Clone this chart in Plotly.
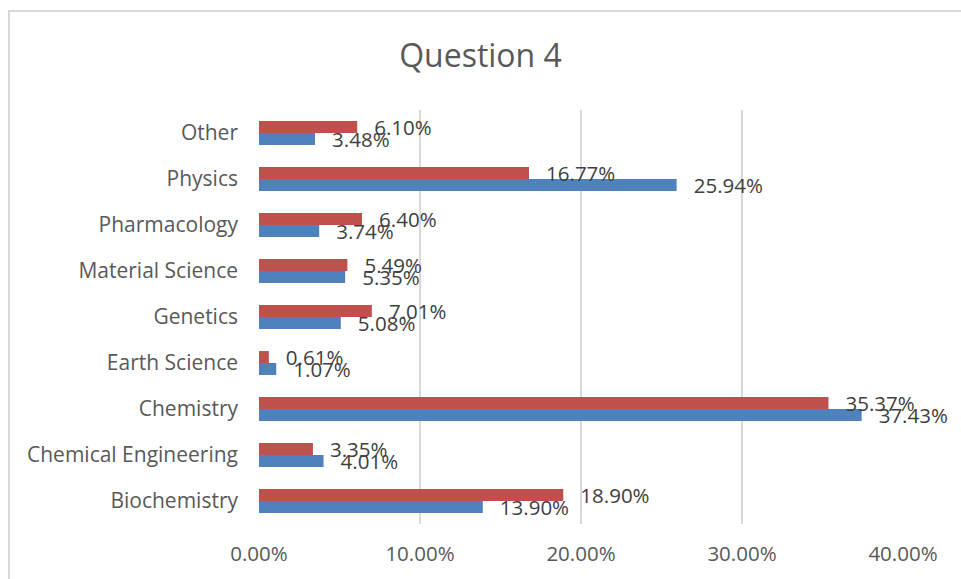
import plotly.graph_objects as go

categories = ["Biochemistry", "Chemical Engineering", "Chemistry", "Earth Science",
              "Genetics", "Material Science", "Pharmacology", "Physics", "Other"]
series_blue = [0.1390, 0.0401, 0.3743, 0.0107, 0.0508, 0.0535, 0.0374, 0.2594, 0.0348]
series_red = [0.1890, 0.0335, 0.3537, 0.0061, 0.0701, 0.0549, 0.0640, 0.1677, 0.0610]
x_ticks = [0, 0.1, 0.2, 0.3, 0.4]
x_ticklabels = ["0.00%", "10.00%", "20.00%", "30.00%", "40.00%"]

FONT = "Open Sans"
LABEL_SIZE = 20.5
fig = go.Figure()
fig.add_trace(go.Bar(
    y=categories, x=series_blue, orientation="h", name="Series 1",
    marker=dict(color="#4F81BD", line=dict(width=0)),
    texttemplate="  \u2009%{x:.2%}", textposition="outside",
    textfont=dict(family=FONT, size=LABEL_SIZE, color="#404040"),
    constraintext="none", cliponaxis=False,
))
fig.add_trace(go.Bar(
    y=categories, x=series_red, orientation="h", name="Series 2",
    marker=dict(color="#C0504D", line=dict(width=0)),
    texttemplate="  \u2009%{x:.2%}", textposition="outside",
    textfont=dict(family=FONT, size=LABEL_SIZE, color="#404040"),
    constraintext="none", cliponaxis=False,
))

# chart-area border (light gray frame)
L, R, T, B = 259, 58, 110, 53
W = 961 - L - R
H = 579 - T - B
fig.add_shape(type="rect", xref="paper", yref="paper",
              x0=(9 - L) / W, x1=(975 - L) / W,
              y0=1 - (590 - T) / H, y1=1 - (10.5 - T) / H,
              line=dict(color="#D9D9D9", width=2), fillcolor="rgba(0,0,0,0)", layer="below")

fig.update_layout(
    width=961, height=579,
    margin=dict(l=L, r=R, t=T, b=B),
    paper_bgcolor="white", plot_bgcolor="white",
    barmode="group", bargap=0.48, bargroupgap=0,
    showlegend=False,
    title=dict(text="Question 4", x=0.5, xref="container", xanchor="center",
               y=1 - 56 / 579, yanchor="middle",
               font=dict(family=FONT, size=32, color="#595959")),
    xaxis=dict(range=[0, 0.4], tickvals=x_ticks, ticktext=x_ticklabels,
               showgrid=True, gridcolor="#D9D9D9", gridwidth=1.5,
               zeroline=False, showline=False, ticks="",
               ticklabelstandoff=15,
               tickfont=dict(family=FONT, size=20.5, color="#595959")),
    yaxis=dict(showgrid=False, zeroline=False, showline=False, ticks="",
               ticklabelstandoff=20,
               tickfont=dict(family=FONT, size=21, color="#595959")),
    font=dict(family=FONT),
)

fig.write_html("out.html", config={"displayModeBar": False},
               post_script="document.body.style.margin='0';document.body.style.overflow='hidden';")
